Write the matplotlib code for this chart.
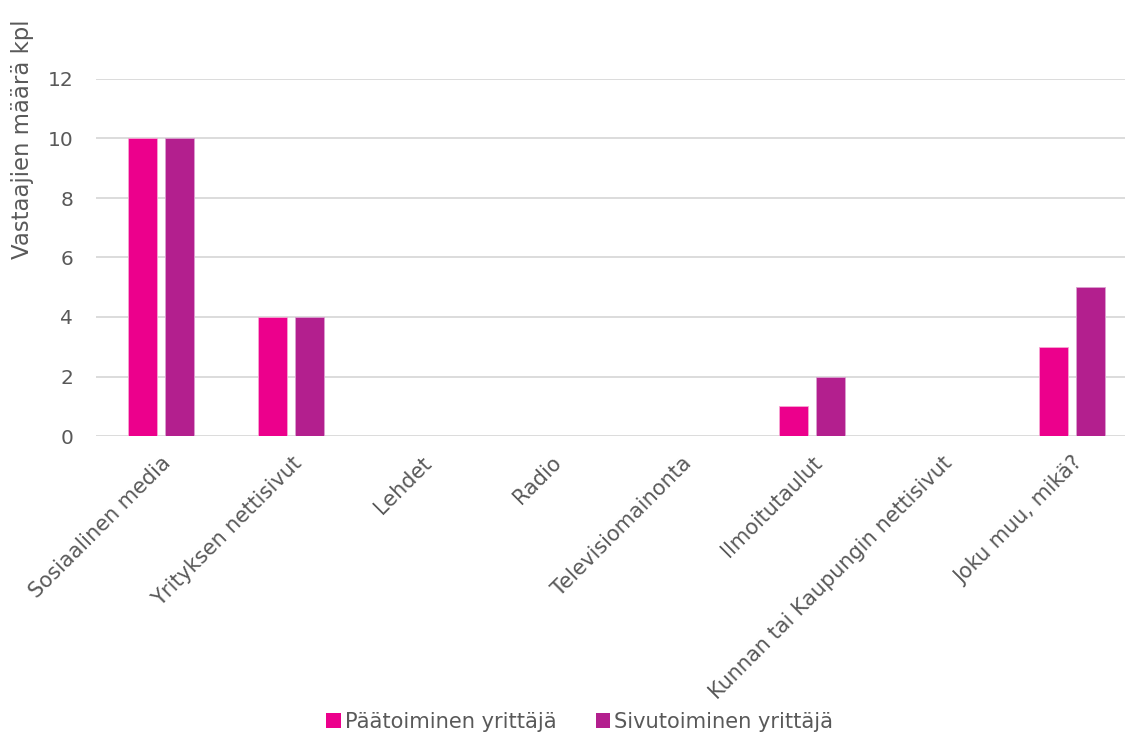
import numpy as np
import matplotlib
matplotlib.use('Agg')
import matplotlib.pyplot as plt
from matplotlib.patches import Patch

# Aineisto kuvasta
kategoriat = ['Sosiaalinen media', 'Yrityksen nettisivut', 'Lehdet', 'Radio',
              'Televisiomainonta', 'Ilmoitutaulut', 'Kunnan tai Kaupungin nettisivut',
              'Joku muu, mikä?']
paatoiminen = [10, 4, 0, 0, 0, 1, 0, 3]
sivutoiminen = [10, 4, 0, 0, 0, 2, 0, 5]
sarjat = ['Päätoiminen yrittäjä', 'Sivutoiminen yrittäjä']
y_tikit = [0, 2, 4, 6, 8, 10, 12]

vari1 = '#EC008C'
vari2 = '#B31F8E'
tekstivari = '#595959'

plt.rcParams['font.family'] = ['DejaVu Sans']

fig = plt.figure(figsize=(11.28, 7.36), dpi=100)
# akselit: vasen reuna 96 px, oikea ~1125 px, y=0 kohdassa 436 px, y=12 kohdassa 79 px
ax = fig.add_axes([96 / 1128, 1 - 436 / 736, 1029 / 1128, 357 / 736])

x = np.arange(len(kategoriat))
lev = 0.223
siirto = 0.142
ax.bar(x - siirto, paatoiminen, lev, color=vari1, edgecolor='#f7a6d3', linewidth=0.6, zorder=3)
ax.bar(x + siirto, sivutoiminen, lev, color=vari2, edgecolor='#dba0d0', linewidth=0.6, zorder=3)

ax.set_xlim(-0.5, -0.5 + 1029 / 130.1)
ax.set_ylim(0, 12)
ax.set_yticks(y_tikit)
ax.grid(axis='y', color='#D9D9D9', linewidth=1.3, zorder=0)
ax.set_axisbelow(True)
for s in ax.spines.values():
    s.set_visible(False)
ax.tick_params(length=0, colors=tekstivari)
ax.tick_params(axis='y', pad=16.5, labelsize=14.5)
ax.set_xticks(x)
ax.set_xticklabels(kategoriat, rotation=45, ha='right', rotation_mode='anchor')
ax.tick_params(axis='x', pad=12, labelsize=15)

ax.set_ylabel('Vastaajien määrä kpl', fontsize=16.4, color=tekstivari)
ax.yaxis.set_label_coords(-0.06, 0.832)

kahvat = [Patch(facecolor=vari1), Patch(facecolor=vari2)]
fig.legend(kahvat, sarjat, loc='center', bbox_to_anchor=(0.514, 0.019), ncol=2,
           frameon=False, fontsize=15.1, labelcolor=tekstivari,
           handlelength=0.71, handleheight=0.71, handletextpad=0.19, columnspacing=1.86)

fig.savefig('out.png', dpi=100)
